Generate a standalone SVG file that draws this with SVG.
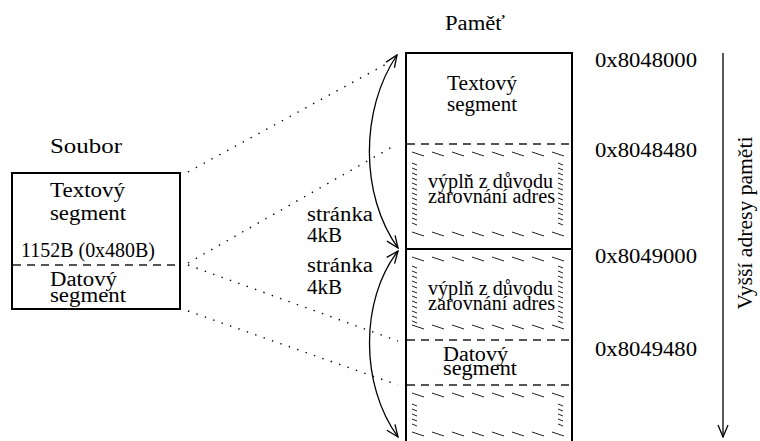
<svg xmlns="http://www.w3.org/2000/svg" width="760" height="441" viewBox="0 0 760 441">
<style>
text{font-family:"Liberation Serif","Times New Roman",Times,"DejaVu Serif",serif;font-size:20px;fill:#000}
.solid{fill:none;stroke:#000;stroke-width:2}
.dash{fill:none;stroke:#555;stroke-width:2;stroke-dasharray:8 6}
.dot{fill:none;stroke:#000;stroke-width:1.4;stroke-dasharray:1.4 7.5}
.hatch{fill:none;stroke:#222;stroke-width:1}
.arc{fill:none;stroke:#000;stroke-width:1.3}
</style>
<defs>
<marker id="ah" viewBox="0 0 14 12" refX="13" refY="6" markerWidth="14" markerHeight="12" markerUnits="userSpaceOnUse" orient="auto-start-reverse">
<path d="M1 1 L13 6 L1 11" fill="none" stroke="#000" stroke-width="1.3"/>
</marker>
<path id="row" class="hatch" d="M0 0l12 4m8 -4l12 4m8 -4l12 4m8 -4l12 4m8 -4l12 4m8 -4l12 4m8 -4l12 4m8 -4l12 4"/>
<path id="col13" class="hatch" d="M0 0l5 2m-5 3l5 2m-5 3l5 2m-5 3l5 2m-5 3l5 2m-5 3l5 2m-5 3l5 2m-5 3l5 2m-5 3l5 2m-5 3l5 2m-5 3l5 2m-5 3l5 2m-5 3l5 2"/>
<path id="col12" class="hatch" d="M0 0l5 2m-5 3l5 2m-5 3l5 2m-5 3l5 2m-5 3l5 2m-5 3l5 2m-5 3l5 2m-5 3l5 2m-5 3l5 2m-5 3l5 2m-5 3l5 2m-5 3l5 2"/>
<path id="col5" class="hatch" d="M0 0l5 2m-5 3l5 2m-5 3l5 2m-5 3l5 2m-5 3l5 2"/>
</defs>

<g id="title-pamet"><text x="445" y="30" textLength="60" lengthAdjust="spacingAndGlyphs">Paměť</text></g>

<g id="soubor">
<text x="50" y="153" textLength="72" lengthAdjust="spacingAndGlyphs">Soubor</text>
<rect x="12" y="173" width="168" height="136" class="solid"/>
<line x1="13" y1="265" x2="179" y2="265" class="dash"/>
<text x="50" y="197" textLength="75" lengthAdjust="spacingAndGlyphs">Textový</text>
<text x="50" y="220" textLength="76" lengthAdjust="spacingAndGlyphs">segment</text>
<text x="21" y="257" textLength="134" lengthAdjust="spacingAndGlyphs">1152B (0x480B)</text>
<text x="50" y="286" textLength="67" lengthAdjust="spacingAndGlyphs">Datový</text>
<text x="50" y="302" textLength="76" lengthAdjust="spacingAndGlyphs">segment</text>
</g>

<g id="pamet">
<path d="M406 441 V53 H572 V441" class="solid"/>
<line x1="406" y1="249" x2="572" y2="249" class="solid"/>
<line x1="407" y1="144" x2="571" y2="144" class="dash"/>
<line x1="407" y1="340" x2="571" y2="340" class="dash"/>
<line x1="407" y1="385" x2="571" y2="385" class="dash"/>
<text x="447" y="90" textLength="70" lengthAdjust="spacingAndGlyphs">Textový</text>
<text x="447" y="111" textLength="70" lengthAdjust="spacingAndGlyphs">segment</text>
<text x="443" y="361" textLength="65" lengthAdjust="spacingAndGlyphs">Datový</text>
<text x="443" y="375" textLength="74" lengthAdjust="spacingAndGlyphs">segment</text>
</g>

<g id="vypln1">
<use href="#row" x="412" y="152"/>
<use href="#row" x="412" y="232"/>
<use href="#col13" x="412" y="163"/>
<use href="#col13" x="558" y="163"/>
<text x="428" y="188" textLength="125" lengthAdjust="spacingAndGlyphs">výplň z důvodu</text>
<text x="428" y="203" textLength="127" lengthAdjust="spacingAndGlyphs">zarovnání adres</text>
</g>

<g id="vypln2">
<use href="#row" x="412" y="257"/>
<use href="#row" x="412" y="325"/>
<use href="#col12" x="412" y="266"/>
<use href="#col12" x="558" y="266"/>
<text x="428" y="295" textLength="125" lengthAdjust="spacingAndGlyphs">výplň z důvodu</text>
<text x="428" y="310" textLength="127" lengthAdjust="spacingAndGlyphs">zarovnání adres</text>
</g>

<g id="vypln3">
<use href="#row" x="412" y="393"/>
<use href="#row" x="412" y="432"/>
<use href="#col5" x="412" y="404"/>
<use href="#col5" x="558" y="404"/>
</g>

<g id="adresy">
<text x="595" y="67" textLength="102" lengthAdjust="spacingAndGlyphs">0x8048000</text>
<text x="595" y="157" textLength="102" lengthAdjust="spacingAndGlyphs">0x8048480</text>
<text x="595" y="263" textLength="102" lengthAdjust="spacingAndGlyphs">0x8049000</text>
<text x="595" y="356" textLength="102" lengthAdjust="spacingAndGlyphs">0x8049480</text>
</g>

<g id="stranky">
<text x="307" y="221" textLength="66" lengthAdjust="spacingAndGlyphs">stránka</text>
<text x="307" y="242" textLength="35" lengthAdjust="spacingAndGlyphs">4kB</text>
<text x="307" y="272" textLength="66" lengthAdjust="spacingAndGlyphs">stránka</text>
<text x="307" y="294" textLength="35" lengthAdjust="spacingAndGlyphs">4kB</text>
</g>

<g id="osa">
<text transform="translate(752 223) rotate(-90)" text-anchor="middle" textLength="173" lengthAdjust="spacingAndGlyphs">Vyšší adresy paměti</text>
</g>

<g id="connectors">
<line x1="188" y1="172" x2="390" y2="62" class="dot"/>
<line x1="188" y1="263" x2="392" y2="147" class="dot"/>
<line x1="188" y1="265" x2="398" y2="341" class="dot"/>
<line x1="188" y1="311" x2="398" y2="385" class="dot"/>
<path d="M397 55 C360 110 360 195 398 248" class="arc" marker-start="url(#ah)" marker-end="url(#ah)"/>
<path d="M398 251 C360 300 360 385 398 437" class="arc" marker-start="url(#ah)" marker-end="url(#ah)"/>
<line x1="723" y1="53" x2="723" y2="437" class="arc" marker-end="url(#ah)"/>
</g>
</svg>
